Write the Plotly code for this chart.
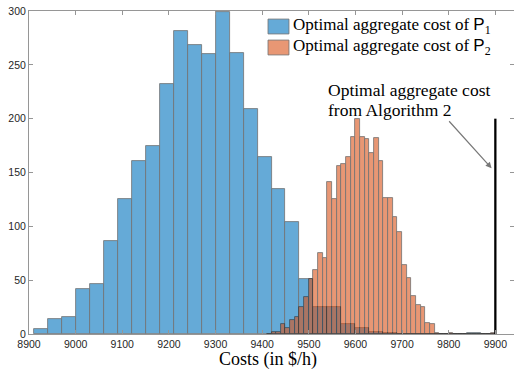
import plotly.graph_objects as go

# ---- data ----
blue_start = 8910
blue_width = 30
blue_counts = [5, 14, 16, 42, 46, 86, 125, 161, 175, 232, 281, 268, 260, 299, 261,
               209, 164, 135, 104, 51, 25, 25, 9, 6, 2, 1, 0, 0, 0, 0, 0, 1, 0]

orange_start = 9410
orange_width = 10
orange_counts = [0, 2, 2, 9, 6, 13, 16, 25, 34, 51, 59, 75, 71, 141, 125, 156, 158,
                 164, 183, 200, 183, 181, 168, 182, 161, 126, 126, 109, 95, 64, 52,
                 35, 27, 25, 10, 9, 1, 0, 0, 1, 0, 0, 0, 0, 0, 0, 0, 0, 1]

alg2_cost = 9900
alg2_height = 200

x_ticks = [8900, 9000, 9100, 9200, 9300, 9400, 9500, 9600, 9700, 9800, 9900]
y_ticks = [0, 50, 100, 150, 200, 250, 300]

legend_labels = ["Optimal aggregate cost of <span style='font-family:Liberation Sans'>P</span><sub>1</sub>",
                 "Optimal aggregate cost of <span style='font-family:Liberation Sans'>P</span><sub>2</sub>"]
note_lines = ["Optimal aggregate cost", "from Algorithm 2"]
x_title = "Costs (in $/h)"

blue = "rgb(0,114,189)"
orange = "rgb(217,83,25)"
edge = "rgb(20,20,20)"

blue_x = [blue_start + i * blue_width for i in range(len(blue_counts))]
orange_x = [orange_start + i * orange_width for i in range(len(orange_counts))]

fig = go.Figure()
fig.add_trace(go.Bar(x=blue_x, y=blue_counts, width=blue_width, offset=0,
                     marker=dict(color=blue, line=dict(color=edge, width=0.8)),
                     opacity=0.6, showlegend=False))
fig.add_trace(go.Bar(x=orange_x, y=orange_counts, width=orange_width, offset=0,
                     marker=dict(color=orange, line=dict(color=edge, width=0.8)),
                     opacity=0.6, showlegend=False))
fig.add_trace(go.Scatter(x=[alg2_cost, alg2_cost], y=[0, alg2_height], mode="lines",
                         line=dict(color="black", width=2.3), showlegend=False,
                         hoverinfo="skip"))

serif = "Liberation Serif"
sans = "Liberation Sans"
axis_col = "rgb(150,150,150)"
tick_font = dict(family=sans, size=10.5, color="rgb(38,38,38)")

fig.update_layout(
    width=514, height=371,
    margin=dict(l=29, r=0, t=11, b=37),
    barmode="overlay", bargap=0,
    plot_bgcolor="white", paper_bgcolor="white",
    xaxis=dict(range=[8900, 9940], tickvals=x_ticks, ticktext=[str(v) for v in x_ticks],
               ticks="inside", ticklen=4, automargin=False,
               tickcolor=axis_col, showline=True, linecolor=axis_col, linewidth=1,
               mirror="ticks", showgrid=False, zeroline=False, tickfont=tick_font),
    yaxis=dict(range=[0, 300], tickvals=y_ticks, ticktext=[str(v) for v in y_ticks],
               ticks="inside", ticklen=4, automargin=False,
               tickcolor=axis_col, showline=True, linecolor=axis_col, linewidth=1,
               mirror="ticks", showgrid=False, zeroline=False, tickfont=tick_font),
)

# x-axis title
fig.add_annotation(x=0.492, y=-0.079, xref="paper", yref="paper", text=x_title,
                   showarrow=False, xanchor="center", yanchor="middle",
                   font=dict(family=serif, size=18, color="black"))

# arrow pointing to the Algorithm 2 line
fig.add_annotation(x=9892, y=154, ax=9798, ay=199, xref="x", yref="y", axref="x", ayref="y",
                   text="", showarrow=True, arrowhead=2, arrowsize=1, arrowwidth=1.2,
                   arrowcolor="rgb(120,120,120)")

# note text
for line, yp in zip(note_lines, [0.756, 0.693]):
    fig.add_annotation(x=0.612, y=yp, xref="paper", yref="paper", text=line,
                       showarrow=False, xanchor="left", yanchor="middle",
                       font=dict(family=serif, size=17.5, color="black"))

# custom legend
sw_colors = [blue, orange]
sw_y = [(0.929, 0.975), (0.864, 0.910)]
txt_y = [0.954, 0.889]
for lab, col, (y0, y1), ty in zip(legend_labels, sw_colors, sw_y, txt_y):
    fig.add_shape(type="rect", xref="paper", yref="paper", x0=0.4928, x1=0.536,
                  y0=y0, y1=y1, fillcolor=col, opacity=0.6,
                  line=dict(color=edge, width=0.8))
    fig.add_annotation(x=0.540, y=ty, xref="paper", yref="paper", text=lab,
                       showarrow=False, xanchor="left", yanchor="middle",
                       font=dict(family=serif, size=17, color="black"))

fig.write_html("out.html", config={"displayModeBar": False},
               post_script="document.body.style.margin='0';document.body.style.padding='0';")
